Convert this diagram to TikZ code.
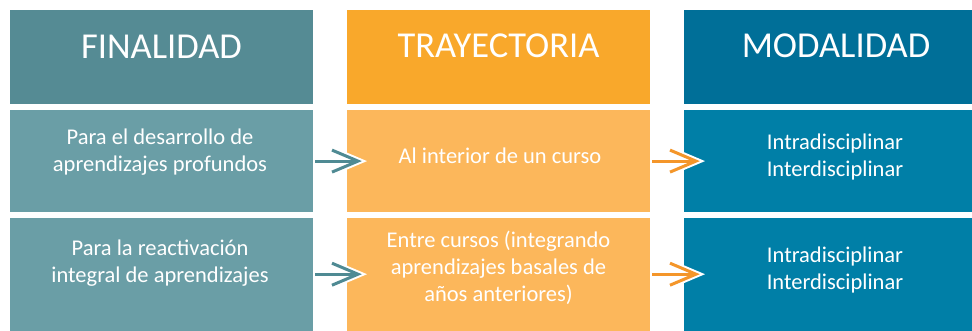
\documentclass[tikz,border=0pt]{standalone}
\usepackage{fontspec}
\setmainfont{Carlito}
\usetikzlibrary{calc}
\definecolor{hdA}{HTML}{558B94}
\definecolor{bxA}{HTML}{6A9EA6}
\definecolor{hdB}{HTML}{F9A82B}
\definecolor{bxB}{HTML}{FCB75B}
\definecolor{hdC}{HTML}{006F98}
\definecolor{bxC}{HTML}{007FA7}
\definecolor{arA}{HTML}{4F8A93}
\definecolor{arB}{HTML}{F4962A}
\newcommand\mychev[3]{%
  \draw[white, line width=7pt, line join=miter] ($(#2)+(-26,-11)$) -- (#2) -- ($(#2)+(-26,11)$);
  \draw[#3, line width=3pt] (#1) -- (#2);
  \draw[#3, line width=3pt, line join=miter] ($(#2)+(-26,-11)$) -- (#2) -- ($(#2)+(-26,11)$);
}
\begin{document}
\begin{tikzpicture}[x=1pt,y=-1pt,
  box/.style={draw=none, inner sep=0pt, minimum width=303pt, anchor=north west},
  hdtext/.style={text=white, inner sep=0pt, anchor=base, font=\fontsize{36.5}{40}\selectfont},
  bodytext/.style={text=white, inner sep=0pt, anchor=base, align=center, font=\fontsize{22.5}{27.3}\selectfont}]
\useasboundingbox (0,0) rectangle (972,331);
\clip (0,0) rectangle (972,331);
% boxes
\node[box, fill=hdA, minimum height=93.5pt] (h1) at (10,10) {};
\node[box, fill=hdB, minimum height=93.5pt] (h2) at (347,10) {};
\node[box, fill=hdC, minimum height=93.5pt] (h3) at (684,10) {};
\node[box, fill=bxA, minimum height=101.8pt] (a1) at (10,110) {};
\node[box, fill=bxB, minimum height=101.8pt] (b1) at (347,110) {};
\node[box, fill=bxC, minimum height=101.8pt] (c1) at (684,110) {};
\node[box, fill=bxA, minimum height=120pt] (a2) at (10,217.8) {};
\node[box, fill=bxB, minimum height=120pt] (b2) at (347,217.8) {};
\node[box, fill=bxC, minimum height=120pt] (c2) at (684,217.8) {};
% headers
\node[hdtext] (th1) at (161.5,58.5) {FINALIDAD};
\node[hdtext] (th2) at (498.5,58) {TRAYECTORIA};
\node[hdtext] (th3) at (836,57.5) {MODALIDAD};
% texts (anchor base = baseline of last line)
\node[bodytext] (ta1) at (160,172) {Para el desarrollo de\\aprendizajes profundos};
\node[bodytext] (tb1) at (500,163.3) {Al interior de un curso};
\node[bodytext] (tc1) at (835,176.7) {Intradisciplinar\\Interdisciplinar};
\node[bodytext] (ta2) at (160,282.3) {Para la reactivación\\integral de aprendizajes};
\node[bodytext] (tb2) at (498.5,301.7) {Entre cursos (integrando\\aprendizajes basales de\\años anteriores)};
\node[bodytext] (tc2) at (835,289.3) {Intradisciplinar\\Interdisciplinar};
% arrows
\coordinate (s1) at ([xshift=2pt]a1.east);
\coordinate (e1) at ([xshift=11pt]b1.west);
\coordinate (s2) at ([xshift=2pt]b1.east);
\coordinate (e2) at ([xshift=12pt]c1.west);
\coordinate (s3) at ([xshift=2pt,yshift=3.8pt]a2.east);
\coordinate (e3) at ([xshift=11pt,yshift=3.8pt]b2.west);
\coordinate (s4) at ([xshift=2pt,yshift=3.8pt]b2.east);
\coordinate (e4) at ([xshift=12pt,yshift=3.8pt]c2.west);
\mychev{s1}{e1}{arA}
\mychev{s2}{e2}{arB}
\mychev{s3}{e3}{arA}
\mychev{s4}{e4}{arB}
\end{tikzpicture}
\end{document}
